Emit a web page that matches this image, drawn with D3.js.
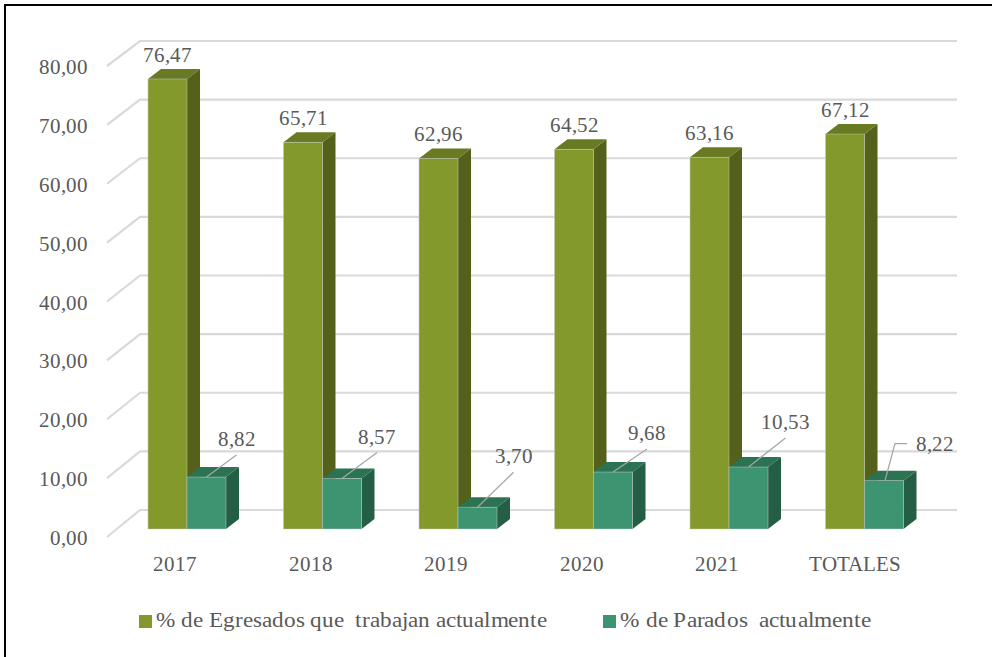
<!DOCTYPE html>
<html><head><meta charset="utf-8">
<script src="https://cdn.jsdelivr.net/npm/d3@7"></script>
<style>
@font-face{font-family:"ChartSerif";src:local("Liberation Serif"),local("LiberationSerif-Regular"),local("LiberationSerif"),local("DejaVu Serif"),local("DejaVuSerif"),local("Noto Serif"),local("NotoSerif-Regular");}
body{margin:0;background:#fff}svg{display:block}
svg text{font-family:"ChartSerif","Liberation Serif","DejaVu Serif",serif;}
</style>
</head><body>
<script>
const categories = ["2017","2018","2019","2020","2021","TOTALES"];
const trabajan = [76.47, 65.71, 62.96, 64.52, 63.16, 67.12];
const parados = [8.82, 8.57, 3.70, 9.68, 10.53, 8.22];
const yTicks = [0,10,20,30,40,50,60,70,80];
const seriesNames = ["% de Egresados que  trabajan actualmente", "% de Parados  actualmente"];

const W = 992, H = 657;
const TXT = "#595959";
const FS = 21;
const fmt = v => v.toFixed(2).replace(".", ",");

const svg = d3.select("body").append("svg").attr("width", W).attr("height", H);
svg.append("rect").attr("x",5).attr("y",5).attr("width",W+10).attr("height",H+10)
  .attr("fill","#fff").attr("stroke","#000").attr("stroke-width",2);

const yBack = d3.scaleLinear().domain([0,80]).range([510, 41]);
const yFront = d3.scaleLinear().domain([0,80]).range([537, 66]);
const yBar = d3.scaleLinear().domain([0,80]).range([529, 58.2]);
const x = d3.scaleBand().domain(categories).range([148, 148+6*135.5]).padding(0);
const BW = 39, DX = 13, DY = -10;

// gridlines
const grid = svg.append("g");
yTicks.forEach(t => {
  grid.append("polyline")
    .attr("points", `107,${yFront(t)} 140,${yBack(t)} 957,${yBack(t)}`)
    .attr("fill","none").attr("stroke","#d9d9d9").attr("stroke-width",2.2);
  svg.append("text").attr("x",88).attr("y",yFront(t)+8).attr("text-anchor","end")
    .attr("font-size",FS).attr("fill",TXT).text(fmt(t));
});

function bar3d(g, x0, v, cols){
  const yt = yBar(v), yb = yBar(0);
  g.append("path").attr("d",`M${x0+BW},${yb} L${x0+BW+DX},${yb+DY} L${x0+BW+DX},${yt+DY} L${x0+BW},${yt} Z`).attr("fill",cols[2]);
  g.append("path").attr("d",`M${x0},${yt} L${x0+DX},${yt+DY} L${x0+BW+DX},${yt+DY} L${x0+BW},${yt} Z`).attr("fill",cols[1]);
  g.append("rect").attr("x",x0).attr("y",yt).attr("width",BW).attr("height",yb-yt).attr("fill",cols[0])
    .attr("stroke","rgba(200,200,200,0.6)").attr("stroke-width",0.8);
}
const greenC = ["#84992b","#687a22","#53611a"];
const tealC = ["#3c9470","#2b7352","#245e45"];

const bars = svg.append("g");
categories.forEach((c,i) => {
  bar3d(bars, x(c), trabajan[i], greenC);
  bar3d(bars, x(c)+BW, parados[i], tealC);
});

// green labels
categories.forEach((c,i) => {
  svg.append("text").attr("x", x(c)+BW/2).attr("y", yBar(trabajan[i])-17)
    .attr("text-anchor","middle").attr("font-size",FS).attr("fill",TXT)
    .text(fmt(trabajan[i]));
});

// teal labels with leader lines
const leaderOffsets = [[30,-22],[35,-26],[36,-35],[34,-23],[37,-29],[null,null]];
categories.forEach((c,i) => {
  const ex = x(c)+BW+BW/2, ey = yBar(parados[i]);
  if (leaderOffsets[i][0] !== null){
    const sx = ex+leaderOffsets[i][0], sy = ey+leaderOffsets[i][1];
    svg.append("line").attr("x1",sx).attr("y1",sy).attr("x2",ex).attr("y2",ey)
      .attr("stroke","#a6a6a6").attr("stroke-width",1.3);
    svg.append("text").attr("x",sx).attr("y",sy-9).attr("text-anchor","middle")
      .attr("font-size",FS).attr("fill",TXT).text(fmt(parados[i]));
  } else {
    svg.append("polyline").attr("points",`${ex+1},${ey} ${ex+11},${ey-37} ${ex+23},${ey-37}`)
      .attr("fill","none").attr("stroke","#a6a6a6").attr("stroke-width",1.3);
    svg.append("text").attr("x",ex+32).attr("y",ey-30).attr("text-anchor","start")
      .attr("font-size",FS).attr("fill",TXT).text(fmt(parados[i]));
  }
});

// category labels
categories.forEach((c,i) => {
  svg.append("text").attr("x", x(c)+27 + (c==="TOTALES"?2:0)).attr("y",571).attr("text-anchor","middle")
    .attr("font-size",FS).attr("fill",TXT).text(c);
});

// legend
const legX = [139, 603];
const legW = [391, 251];
seriesNames.forEach((s,i) => {
  svg.append("rect").attr("x",legX[i]).attr("y",615).attr("width",13).attr("height",13)
    .attr("fill", i===0?greenC[0]:tealC[0]);
  svg.append("text").attr("x",legX[i]+17).attr("y",627)
    .attr("font-size",FS).attr("fill",TXT).style("white-space","pre")
    .attr("textLength",legW[i]).attr("lengthAdjust","spacingAndGlyphs").text(s);
});
</script>
</body></html>
